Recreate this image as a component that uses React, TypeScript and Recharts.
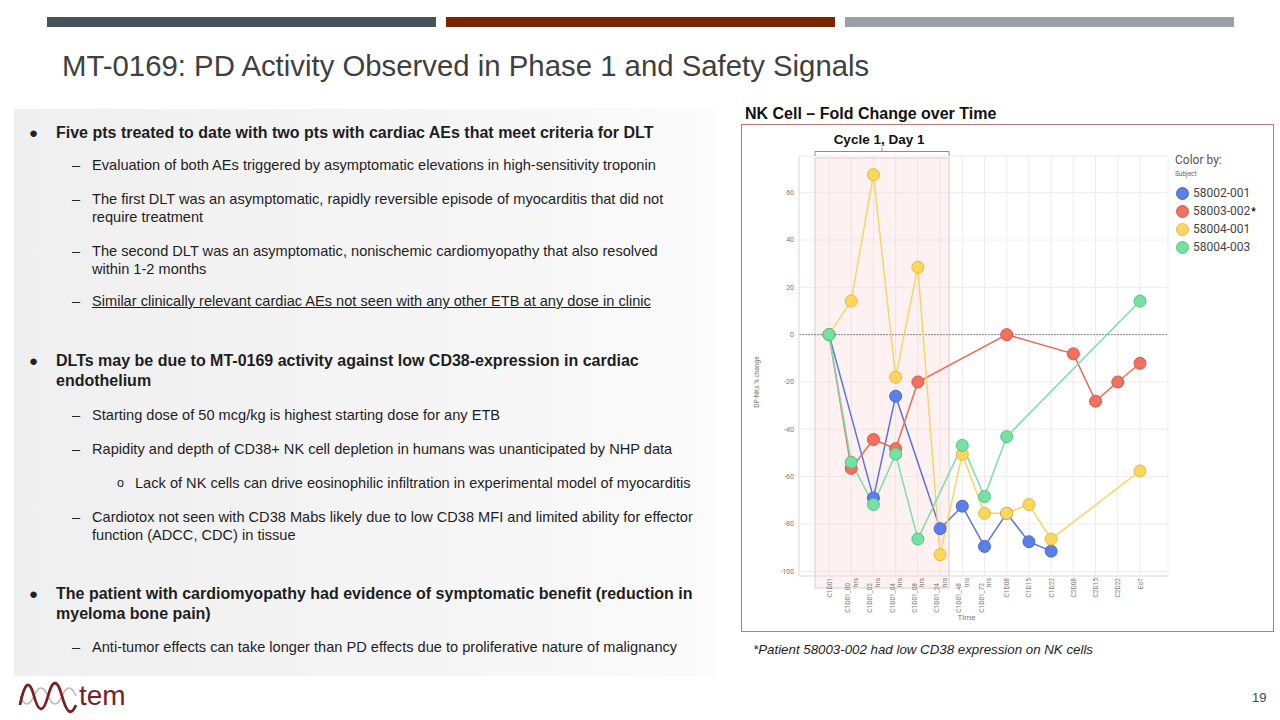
import { LineChart, Line, XAxis, YAxis, CartesianGrid, ReferenceArea, ReferenceLine, Label } from 'recharts';

const categories = [
  'C1D01', 'C1D01_00 hrs', 'C1D01_02 hrs', 'C1D01_04 hrs', 'C1D01_08 hrs', 'C1D01_24 hrs',
  'C1D01_48 hrs', 'C1D01_72 hrs', 'C1D08', 'C1D15', 'C1D22', 'C2D08', 'C2D15', 'C2D22', 'EoT',
];

// DP-NKs % change per subject (null = no sample)
const subj58002_001 = [0, null, -69, -26, null, -82, -72.5, -89.5, -75.5, -87.5, -91.5, null, null, null, null];
const subj58003_002 = [0, -56.5, -44.3, -48.2, -20, null, null, null, 0, null, null, -8.1, -28.1, -20, -12.1];
const subj58004_001 = [0, 14.2, 67.6, -18, 28.5, -93, -50.5, -75.5, -75.5, -71.8, -86.4, null, null, null, -57.6];
const subj58004_003 = [0, -53.9, -71.8, -50.5, -86.4, null, -46.8, -68.4, -43.1, null, null, null, null, null, 14.2];

const yTicks = [-100, -80, -60, -40, -20, 0, 20, 40, 60];

const SERIES = [
  { key: 's1', name: '58002-001', values: subj58002_001, fill: '#5b7fe9', stroke: '#4a68cc', line: '#5a74dc' },
  { key: 's2', name: '58003-002', values: subj58003_002, fill: '#f2705f', stroke: '#d2594a', line: '#e96b5a' },
  { key: 's3', name: '58004-001', values: subj58004_001, fill: '#ffd65c', stroke: '#e2b942', line: '#f8d468' },
  { key: 's4', name: '58004-003', values: subj58004_003, fill: '#73e2a2', stroke: '#57c286', line: '#7ddea6' },
];

const rows = categories.map((time, i) => {
  const row: any = { time };
  SERIES.forEach((s) => { row[s.key] = s.values[i]; });
  return row;
});

const ARIAL = '"Liberation Sans", Arial, sans-serif';
const ROBOTO = 'Roboto, "Noto Sans", sans-serif';

const XTick = ({ x, y, payload }: any) => {
  const [a, b] = String(payload.value).split(' ');
  const st = { fontSize: 6.5, fill: '#7a7a7a', fontFamily: ROBOTO };
  if (!b) {
    return (
      <text transform={`translate(${x + 2.5},${y + 2}) rotate(-90)`} textAnchor="end" style={st}>{a}</text>
    );
  }
  return (
    <g>
      <text transform={`translate(${x - 1},${y + 7}) rotate(-90)`} textAnchor="end" style={st}>{a}</text>
      <text transform={`translate(${x + 6.5},${y + 2}) rotate(-90)`} textAnchor="end" style={st}>{b}</text>
    </g>
  );
};

const CycleShape = (props: any) => {
  const { x, y, width, height } = props;
  const left = x - 14;
  const right = x + width + 9;
  const mid = (left + right) / 2;
  return (
    <g>
      <rect x={left} y={y + 2} width={right - left} height={height + 10} fill="rgba(250,205,205,0.28)" stroke="#d9cccc" strokeWidth={1} />
      <path d={`M${left},${y} L${left},${y - 4.5} L${right},${y - 4.5} L${right},${y} M${mid},${y - 4.5} L${mid},${y - 8}`} stroke="#8c8c8c" strokeWidth={1} fill="none" />
      <text x={mid - 3} y={y - 12} textAnchor="middle" style={{ fontSize: 13.5, fontWeight: 700, fill: '#111', fontFamily: ARIAL }}>Cycle 1, Day 1</text>
    </g>
  );
};

const YLabel = ({ viewBox }: any) => {
  const cx = viewBox.x;
  const cy = viewBox.y + viewBox.height / 2 + 16;
  return (
    <text transform={`translate(${cx},${cy}) rotate(-90)`} textAnchor="middle" style={{ fontSize: 6.5, fill: '#777', fontFamily: ROBOTO }}>
      DP-NKs % change
    </text>
  );
};

const NkChart = () => (
  <LineChart width={525} height={504} data={rows} margin={{ top: 30, right: 102, left: 14, bottom: 4 }}>
    <CartesianGrid stroke="#ececec" />
    <ReferenceArea x1="C1D01" x2="C1D01_24 hrs" ifOverflow="visible" shape={CycleShape} />
    <XAxis
      dataKey="time"
      height={50}
      interval={0}
      tick={XTick}
      tickLine={false}
      tickSize={0}
      tickMargin={0}
      axisLine={{ stroke: '#e2e2e2' }}
      padding={{ left: 30, right: 28 }}
    >
      <Label value="Time" position="insideBottom" offset={6} dx={-17} style={{ fontSize: 8, fill: '#777', fontFamily: ROBOTO }} />
    </XAxis>
    <YAxis
      width={40}
      domain={[-102, 75.5]}
      ticks={yTicks}
      tickSize={0}
      tickMargin={5}
      tickLine={false}
      axisLine={{ stroke: '#e2e2e2' }}
      tick={{ fontSize: 7, fill: '#777', fontFamily: ROBOTO }}
    >
      <Label content={YLabel} />
    </YAxis>
    <ReferenceLine y={0} stroke="#8a8a8a" strokeDasharray="2 1" />
    {SERIES.map((s) => (
      <Line
        key={s.key}
        dataKey={s.key}
        name={s.name}
        stroke={s.line}
        strokeWidth={1.5}
        connectNulls
        isAnimationActive={false}
        dot={{ r: 6, fill: s.fill, stroke: s.stroke, strokeWidth: 1, fillOpacity: 1 }}
        activeDot={false}
      />
    ))}
  </LineChart>
);

type Item = { kind: 'b' | 'd' | 'o'; y: number; lines: string[]; underline?: boolean };

const BULLETS: Item[] = [
  { kind: 'b', y: 133, lines: ['Five pts treated to date with two pts with cardiac AEs that meet criteria for DLT'] },
  { kind: 'd', y: 165, lines: ['Evaluation of both AEs triggered by asymptomatic elevations in high-sensitivity troponin'] },
  { kind: 'd', y: 199, lines: ['The first DLT was an asymptomatic, rapidly reversible episode of myocarditis that did not', 'require treatment'] },
  { kind: 'd', y: 251, lines: ['The second DLT was an asymptomatic, nonischemic cardiomyopathy that also resolved', 'within 1-2 months'] },
  { kind: 'd', y: 301, lines: ['Similar clinically relevant cardiac AEs not seen with any other ETB at any dose in clinic'], underline: true },
  { kind: 'b', y: 361, lines: ['DLTs may be due to MT-0169 activity against low CD38-expression in cardiac', 'endothelium'] },
  { kind: 'd', y: 415, lines: ['Starting dose of 50 mcg/kg is highest starting dose for any ETB'] },
  { kind: 'd', y: 449, lines: ['Rapidity and depth of CD38+ NK cell depletion in humans was unanticipated by NHP data'] },
  { kind: 'o', y: 483, lines: ['Lack of NK cells can drive eosinophilic infiltration in experimental model of myocarditis'] },
  { kind: 'd', y: 517, lines: ['Cardiotox not seen with CD38 Mabs likely due to low CD38 MFI and limited ability for effector', 'function (ADCC, CDC) in tissue'] },
  { kind: 'b', y: 594, lines: ['The patient with cardiomyopathy had evidence of symptomatic benefit (reduction in', 'myeloma bone pain)'] },
  { kind: 'd', y: 647, lines: ['Anti-tumor effects can take longer than PD effects due to proliferative nature of malignancy'] },
];

const abs = (o: any) => ({ position: 'absolute' as const, whiteSpace: 'nowrap' as const, ...o });

const BulletBlock = ({ item }: { item: Item }) => {
  const bold = item.kind === 'b';
  const fs = bold ? 16 : 14.6;
  const lh = bold ? 20 : 17.5;
  const textX = item.kind === 'b' ? 56 : item.kind === 'd' ? 92 : 135;
  const markX = item.kind === 'b' ? 29 : item.kind === 'd' ? 72 : 117;
  const mark = item.kind === 'b' ? '●' : item.kind === 'd' ? '–' : 'o';
  return (
    <>
      <div style={abs({ left: markX, top: item.y - 10, lineHeight: '20px', fontSize: item.kind === 'b' ? 15 : item.kind === 'o' ? 12.5 : 14.6, fontFamily: ARIAL, color: '#222' })}>{mark}</div>
      {item.lines.map((t, i) => (
        <div
          key={i}
          style={abs({
            left: textX,
            top: item.y - 10 + i * lh,
            lineHeight: '20px',
            fontSize: fs,
            fontWeight: bold ? 700 : 400,
            fontFamily: ARIAL,
            color: '#1e1e1e',
            textDecoration: item.underline ? 'underline' : 'none',
          })}
        >
          {t}
        </div>
      ))}
    </>
  );
};

const Logo = () => (
  <svg width={130} height={40} style={{ position: 'absolute', left: 0, top: 676 }}>
    <path d="M20,20 Q27,36 34,20 T48,20 T62,20 T76,20" stroke="#b8b8b8" strokeWidth={1.6} fill="none" />
    <path d="M20,29 Q27,-6 34,20 T48,20 T62,20 T76,29" stroke="#7a1f1f" strokeWidth={2.8} fill="none" />
    <text x={79} y={29} style={{ fontSize: 28, fontFamily: ARIAL, fill: '#7a1f1f' }}>tem</text>
  </svg>
);

export default function App() {
  return (
    <div style={{ position: 'absolute', left: 0, top: 0, width: 1280, height: 720, background: '#fff', overflow: 'hidden', fontFamily: ARIAL }}>
      <div style={abs({ left: 47, top: 17, width: 389, height: 10, background: '#465358' })} />
      <div style={abs({ left: 446, top: 17, width: 389, height: 10, background: '#7a2500' })} />
      <div style={abs({ left: 845, top: 17, width: 389, height: 10, background: '#9aa0a8' })} />
      <div style={abs({ left: 62, top: 48, fontSize: 30, lineHeight: '36px', color: '#404040', transform: 'scaleX(0.978)', transformOrigin: 'left center' })}>
        MT-0169: PD Activity Observed in Phase 1 and Safety Signals
      </div>

      <div style={abs({ left: 14, top: 109, width: 701, height: 567, background: 'linear-gradient(90deg, #efefef 0%, #f5f5f5 60%, #fbfbfb 100%)' })} />
      {BULLETS.map((b, i) => <BulletBlock key={i} item={b} />)}

      <div style={abs({ left: 745, top: 104, fontSize: 16, fontWeight: 700, lineHeight: '20px', color: '#111' })}>
        NK Cell – Fold Change over Time
      </div>
      <div style={abs({ left: 741, top: 124, width: 531, height: 506, border: '1.5px solid #bb7b7b' })} />
      <div style={abs({ left: 745, top: 126 })}>
        <NkChart />
      </div>

      <div style={abs({ left: 1175, top: 153, fontFamily: ROBOTO })}>
        <div style={{ fontSize: 12, color: '#555', lineHeight: '15px' }}>Color by:</div>
        <div style={{ fontSize: 6.5, color: '#666', lineHeight: '12px', marginBottom: 4 }}>Subject</div>
        {SERIES.map((s, i) => (
          <div key={s.key} style={{ display: 'flex', alignItems: 'center', height: 18 }}>
            <span style={{ display: 'inline-block', width: 11, height: 11, borderRadius: '50%', background: s.fill, border: `1px solid ${s.stroke}`, marginLeft: 1, marginRight: 4 }} />
            <span style={{ fontSize: 12, color: '#444' }}>{s.name}</span>
            {i === 1 && <span style={{ fontSize: 10, color: '#000', fontWeight: 700, marginLeft: 1 }}>*</span>}
          </div>
        ))}
      </div>

      <div style={abs({ left: 753, top: 641, fontSize: 13.3, fontStyle: 'italic', lineHeight: '18px', color: '#1e1e1e' })}>
        *Patient 58003-002 had low CD38 expression on NK cells
      </div>
      <div style={abs({ left: 1252, top: 690, fontSize: 13, lineHeight: '16px', color: '#444' })}>19</div>
      <Logo />
    </div>
  );
}
